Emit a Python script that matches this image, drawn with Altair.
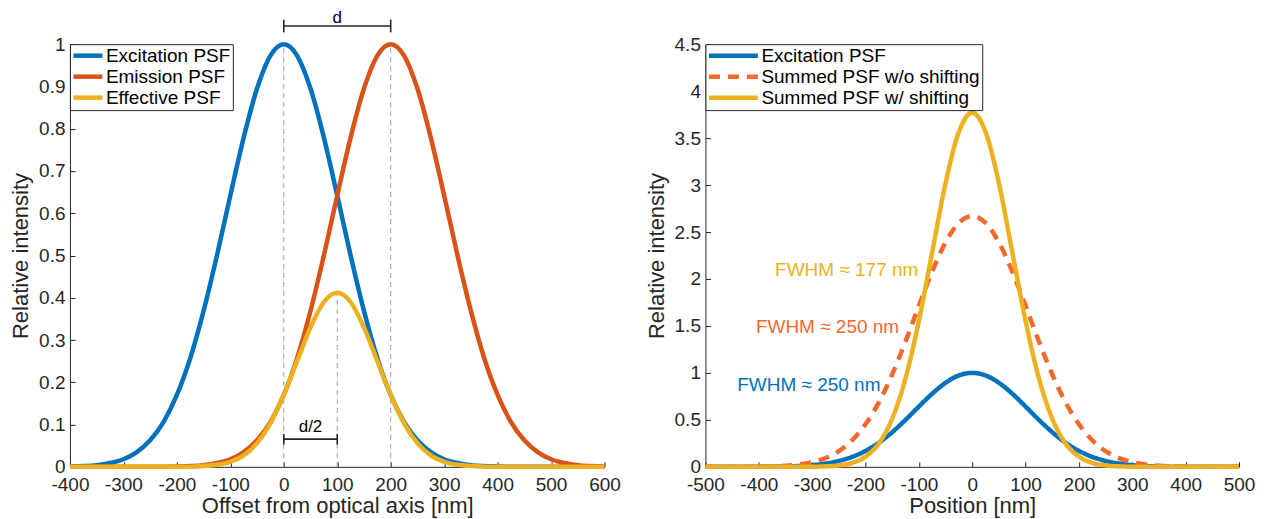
import altair as alt
import pandas as pd

FONT = "Liberation Sans"
INK = "#262626"

# ---------------- left panel data ----------------
x_left = list(range(-400, 601, 25))
exc_left = [0.001, 0.002, 0.004, 0.009, 0.018, 0.035, 0.063, 0.106, 0.170, 0.257,
            0.369, 0.500, 0.642, 0.779, 0.895, 0.973, 1.000, 0.973, 0.895, 0.779,
            0.642, 0.500, 0.369, 0.257, 0.170, 0.106, 0.063, 0.035, 0.018, 0.009,
            0.004, 0.002, 0.001, 0.0, 0.0, 0.0, 0.0, 0.0, 0.0, 0.0, 0.0]
emi_left = [0.0, 0.0, 0.0, 0.0, 0.0, 0.0, 0.0, 0.0,
            0.001, 0.002, 0.004, 0.009, 0.018, 0.035, 0.063, 0.106, 0.170, 0.257,
            0.369, 0.500, 0.642, 0.779, 0.895, 0.973, 1.000, 0.973, 0.895, 0.779,
            0.642, 0.500, 0.369, 0.257, 0.170, 0.106, 0.063, 0.035, 0.018, 0.009,
            0.004, 0.002, 0.001]
eff_left = [0.0, 0.0, 0.0, 0.0, 0.0, 0.0, 0.0, 0.0,
            0.0001, 0.0005, 0.002, 0.005, 0.012, 0.027, 0.056, 0.103, 0.170, 0.250,
            0.330, 0.390, 0.412, 0.390, 0.330, 0.250, 0.170, 0.103, 0.056, 0.027,
            0.012, 0.005, 0.002, 0.0005, 0.0, 0.0, 0.0, 0.0, 0.0, 0.0, 0.0, 0.0, 0.0]
series_left = ["Excitation PSF", "Emission PSF", "Effective PSF"]
colors_left = ["#0072BD", "#D95319", "#EDB120"]

vline_x = [0, 100, 200]
vline_top = [1.0, 0.412, 1.0]

bar_x1 = [0, 0]
bar_x2 = [200, 100]
bar_y = [1.043, 0.0655]
cap_x = [0, 200, 0, 100]
cap_y1 = [1.028, 1.028, 0.053, 0.053]
cap_y2 = [1.058, 1.058, 0.078, 0.078]
lab_text = ["d", "d/2"]
lab_x = [100, 50]
lab_y = [1.05, 0.082]

# ---------------- right panel data ----------------
x_right = list(range(-500, 501, 25))
exc_right = [0.0, 0.0, 0.0, 0.0,
             0.001, 0.002, 0.004, 0.009, 0.018, 0.035, 0.063, 0.106, 0.170, 0.257,
             0.369, 0.500, 0.642, 0.779, 0.895, 0.973, 1.000, 0.973, 0.895, 0.779,
             0.642, 0.500, 0.369, 0.257, 0.170, 0.106, 0.063, 0.035, 0.018, 0.009,
             0.004, 0.002, 0.001, 0.0, 0.0, 0.0, 0.0]
wo_right = [0.0, 0.0, 0.0, 0.001, 0.002, 0.005, 0.012, 0.025, 0.049, 0.093,
            0.167, 0.283, 0.454, 0.686, 0.985, 1.335, 1.714, 2.080, 2.390, 2.598,
            2.670, 2.598, 2.390, 2.080, 1.714, 1.335, 0.985, 0.686, 0.454, 0.283,
            0.167, 0.093, 0.049, 0.025, 0.012, 0.005, 0.002, 0.001, 0.0, 0.0, 0.0]
w_right = [0.0, 0.0, 0.0, 0.0, 0.0, 0.0, 0.0, 0.0,
           0.001, 0.005, 0.015, 0.042, 0.109, 0.249, 0.513, 0.943, 1.553, 2.288,
           3.020, 3.566, 3.770, 3.566, 3.020, 2.288, 1.553, 0.943, 0.513, 0.249,
           0.109, 0.042, 0.015, 0.005, 0.001,
           0.0, 0.0, 0.0, 0.0, 0.0, 0.0, 0.0, 0.0]
series_right = ["Excitation PSF", "Summed PSF w/o shifting", "Summed PSF w/ shifting"]
colors_right = ["#0072BD", "#F4682C", "#EDB120"]
dash_right = [[1, 0], [11, 8], [1, 0]]

ann_text = ["FWHM \u2248 177 nm", "FWHM \u2248 250 nm", "FWHM \u2248 250 nm"]
ann_x = [-101, -137, -172]
ann_y = [2.10, 1.49, 0.87]
ann_color = ["#EDB120", "#F4682C", "#0072BD"]

# ---------------- tables ----------------
left_df = pd.DataFrame({
    "x": x_left * 3,
    "v": exc_left + emi_left + eff_left,
    "s": [series_left[0]] * len(x_left) + [series_left[1]] * len(x_left) + [series_left[2]] * len(x_left),
})
right_df = pd.DataFrame({
    "x": x_right * 3,
    "v": exc_right + wo_right + w_right,
    "r": [series_right[0]] * len(x_right) + [series_right[1]] * len(x_right) + [series_right[2]] * len(x_right),
})
vline_df = pd.DataFrame({"x": vline_x, "y0": [0, 0, 0], "y1": vline_top})
bar_df = pd.DataFrame({"x1": bar_x1, "x2": bar_x2, "y": bar_y})
cap_df = pd.DataFrame({"x": cap_x, "y1": cap_y1, "y2": cap_y2})
lab_df = pd.DataFrame({"t": lab_text, "x": lab_x, "y": lab_y})
ann_df = pd.DataFrame({"t": ann_text, "x": ann_x, "y": ann_y, "c": ann_color})

W, H = 535, 423
XL = alt.Scale(domain=[-400, 600], nice=False)
YL = alt.Scale(domain=[0, 1], nice=False)
XR = alt.Scale(domain=[-500, 500], nice=False)
YR = alt.Scale(domain=[0, 4.5], nice=False)
LW = 4.5

def main_x_axis(vals, title):
    return alt.Axis(values=vals, title=title, ticks=False, tickSize=0, grid=False,
                    labelOverlap=False, labelFlush=False, labelPadding=9, titlePadding=1,
                    labelExpr="'' + datum.value")

def main_y_axis(vals):
    return alt.Axis(values=vals, title="Relative intensity", ticks=False, tickSize=0,
                    grid=False, labelOverlap=False, labelFlush=False, labelPadding=5,
                    titlePadding=6, labelExpr="'' + datum.value")

def tick_x_axis(vals):
    return alt.Axis(values=vals, orient="bottom", offset=-5, tickSize=5, labels=False,
                    domain=False, title=None, grid=False)

def tick_y_axis(vals):
    return alt.Axis(values=vals, orient="left", offset=-5, tickSize=5, labels=False,
                    domain=False, title=None, grid=False)

xl_vals = list(range(-400, 601, 100))
yl_vals = [0, 0.1, 0.2, 0.3, 0.4, 0.5, 0.6, 0.7, 0.8, 0.9, 1]
xr_vals = list(range(-500, 501, 100))
yr_vals = [0, 0.5, 1, 1.5, 2, 2.5, 3, 3.5, 4, 4.5]

def make_legend(path, offset):
    return alt.Legend(orient="top-left", offset=0, title=None, strokeColor=INK,
                      fillColor="white", padding=2, symbolType=path,
                      symbolStrokeWidth=LW, symbolSize=4, labelFontSize=19,
                      labelFont=FONT, labelColor="black", rowPadding=1,
                      labelOffset=offset, labelLimit=500)

# ---------------- left chart ----------------
l_vlines = alt.Chart(vline_df).mark_rule(color="#9a9a9a", strokeDash=[5, 4], strokeWidth=1).encode(
    x=alt.X("x:Q", scale=XL, axis=None),
    y=alt.Y("y0:Q", scale=YL, axis=None),
    y2="y1:Q",
)
l_lines = alt.Chart(left_df).mark_line(strokeWidth=LW, interpolate="monotone").encode(
    x=alt.X("x:Q", scale=XL, axis=main_x_axis(xl_vals, "Offset from optical axis [nm]")),
    y=alt.Y("v:Q", scale=YL, axis=main_y_axis(yl_vals)),
    color=alt.Color("s:N", scale=alt.Scale(domain=series_left, range=colors_left),
                    legend=make_legend("M-8,0H21", 15)),
    order=alt.Order("x:Q"),
)
l_ticks = alt.Chart(left_df).mark_point(opacity=0).encode(
    x=alt.X("x:Q", scale=XL, axis=tick_x_axis(xl_vals)),
    y=alt.Y("v:Q", scale=YL, axis=tick_y_axis(yl_vals)),
)
l_bars = alt.Chart(bar_df).mark_rule(color=INK, strokeWidth=1.6).encode(
    x=alt.X("x1:Q", scale=XL, axis=None), x2="x2:Q",
    y=alt.Y("y:Q", scale=YL, axis=None),
)
l_caps = alt.Chart(cap_df).mark_rule(color=INK, strokeWidth=1.6).encode(
    x=alt.X("x:Q", scale=XL, axis=None),
    y=alt.Y("y1:Q", scale=YL, axis=None), y2="y2:Q",
)
l_text = alt.Chart(lab_df).mark_text(font=FONT, fontSize=17, color="black",
                                     baseline="alphabetic", align="center").encode(
    x=alt.X("x:Q", scale=XL, axis=None),
    y=alt.Y("y:Q", scale=YL, axis=None),
    text="t:N",
)
left = alt.layer(l_vlines, l_lines, l_bars, l_caps, l_text, l_ticks).resolve_axis(
    x="independent", y="independent").properties(width=W, height=H)

# ---------------- right chart ----------------
r_leg = make_legend("M-8,0H41", 35)
r_lines = alt.Chart(right_df).mark_line(strokeWidth=LW, interpolate="monotone").encode(
    x=alt.X("x:Q", scale=XR, axis=main_x_axis(xr_vals, "Position [nm]")),
    y=alt.Y("v:Q", scale=YR, axis=main_y_axis(yr_vals)),
    color=alt.Color("r:N", scale=alt.Scale(domain=series_right, range=colors_right),
                    legend=r_leg),
    strokeDash=alt.StrokeDash("r:N", scale=alt.Scale(domain=series_right, range=dash_right),
                              legend=r_leg),
    order=alt.Order("x:Q"),
)
r_ticks = alt.Chart(right_df).mark_point(opacity=0).encode(
    x=alt.X("x:Q", scale=XR, axis=tick_x_axis(xr_vals)),
    y=alt.Y("v:Q", scale=YR, axis=tick_y_axis(yr_vals)),
)
r_ann = alt.Chart(ann_df).mark_text(font=FONT, fontSize=19, align="right", baseline="middle").encode(
    x=alt.X("x:Q", scale=XR, axis=None),
    y=alt.Y("y:Q", scale=YR, axis=None),
    text="t:N",
    color=alt.Color("c:N", scale=None),
)
right = alt.layer(r_lines, r_ann, r_ticks).resolve_axis(
    x="independent", y="independent").properties(width=534, height=H)

chart = alt.hconcat(left, right, spacing=101, bounds="flush").resolve_scale(
    color="independent", strokeDash="independent"
).properties(
    padding={"left": 1, "top": 0, "right": 5, "bottom": 0}
).configure_view(stroke="transparent").configure_axis(
    labelFont=FONT, titleFont=FONT, labelFontSize=19, titleFontSize=22,
    labelColor=INK, titleColor=INK, domainColor=INK, tickColor=INK,
    domainWidth=1, tickWidth=1, titleFontWeight="normal",
)

chart.save("out.html", embed_options={"renderer": "svg", "actions": False})
